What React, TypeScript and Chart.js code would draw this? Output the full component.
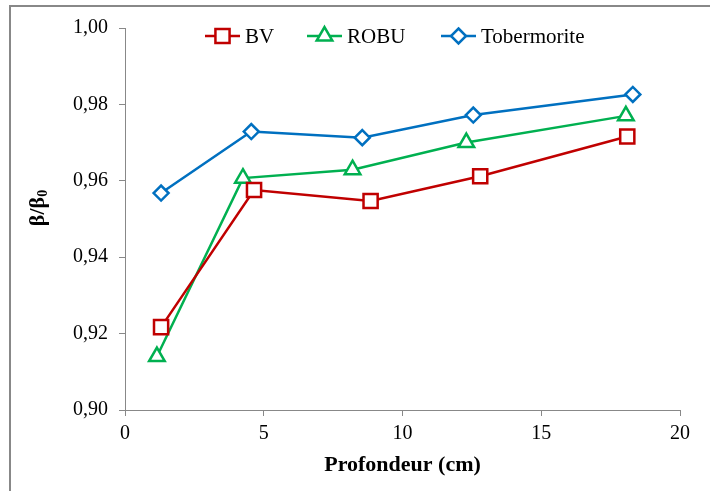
import React, { useEffect, useRef } from "react";
import { Chart, registerables } from "chart.js";

Chart.register(...registerables);

const bvX = [1.3, 4.65, 8.85, 12.8, 18.1];
const bvY = [0.9217, 0.9576, 0.9547, 0.9612, 0.9716];
const robuX = [1.15, 4.25, 8.2, 12.3, 18.05];
const robuY = [0.914, 0.9607, 0.9629, 0.97, 0.977];
const tobX = [1.3, 4.55, 8.55, 12.55, 18.3];
const tobY = [0.9568, 0.9729, 0.9713, 0.9772, 0.9826];

const seriesNames = ["BV", "ROBU", "Tobermorite"];
const seriesColors = ["#C00000", "#00B050", "#0070C0"];
const seriesMarkers = ["rect", "triangle", "rectRot"];
const markerRadius = [10, 9, 7.5];

const xTitle = "Profondeur (cm)";
const yTitleMain = "β/β";
const yTitleSub = "0";

const SERIF = "'Liberation Serif', 'Times New Roman', serif";

const toPts = (xs: number[], ys: number[]) => xs.map((x, i) => ({ x, y: ys[i] }));

const framePlugin = {
  id: "frame",
  beforeDraw(chart: any) {
    const ctx = chart.ctx;
    ctx.save();
    ctx.fillStyle = "#ffffff";
    ctx.fillRect(0, 0, chart.width, chart.height);
    ctx.strokeStyle = "#888888";
    ctx.lineWidth = 2;
    ctx.beginPath();
    ctx.moveTo(10, chart.height);
    ctx.lineTo(10, 6);
    ctx.lineTo(chart.width, 6);
    ctx.stroke();
    ctx.restore();
  },
};

const drawMarker = (ctx: any, style: string, x: number, y: number, r: number) => {
  ctx.beginPath();
  if (style === "rect") {
    const s = Math.SQRT1_2 * r;
    ctx.rect(x - s, y - s, 2 * s, 2 * s);
  } else if (style === "triangle") {
    for (let i = 0; i < 3; i++) {
      const a = (i * 2 * Math.PI) / 3;
      const px = x + Math.sin(a) * r;
      const py = y - Math.cos(a) * r;
      if (i === 0) ctx.moveTo(px, py);
      else ctx.lineTo(px, py);
    }
    ctx.closePath();
  } else {
    ctx.moveTo(x, y - r);
    ctx.lineTo(x + r, y);
    ctx.lineTo(x, y + r);
    ctx.lineTo(x - r, y);
    ctx.closePath();
  }
  ctx.fillStyle = "#ffffff";
  ctx.fill();
  ctx.stroke();
};

const legendPlugin = {
  id: "customLegend",
  afterDraw(chart: any) {
    const ctx = chart.ctx;
    const y = 36;
    const starts = [205, 307, 441];
    ctx.save();
    ctx.font = `21px ${SERIF}`;
    ctx.textBaseline = "middle";
    ctx.textAlign = "left";
    seriesNames.forEach((name, i) => {
      const x0 = starts[i];
      ctx.strokeStyle = seriesColors[i];
      ctx.lineWidth = 2.5;
      ctx.beginPath();
      ctx.moveTo(x0, y);
      ctx.lineTo(x0 + 35, y);
      ctx.stroke();
      drawMarker(ctx, seriesMarkers[i], x0 + 17.5, y, markerRadius[i]);
      ctx.fillStyle = "#000000";
      ctx.fillText(name, x0 + 40, y + 1);
    });
    ctx.restore();
  },
};

const yTitlePlugin = {
  id: "yTitle",
  afterDraw(chart: any) {
    const ctx = chart.ctx;
    ctx.save();
    ctx.translate(38, 208);
    ctx.rotate(-Math.PI / 2);
    ctx.fillStyle = "#000000";
    ctx.textBaseline = "middle";
    ctx.textAlign = "left";
    ctx.font = `bold 22px ${SERIF}`;
    const w1 = ctx.measureText(yTitleMain).width;
    ctx.font = `bold 14px ${SERIF}`;
    const w2 = ctx.measureText(yTitleSub).width;
    const start = -(w1 + w2) / 2;
    ctx.font = `bold 22px ${SERIF}`;
    ctx.fillText(yTitleMain, start, 0);
    ctx.font = `bold 14px ${SERIF}`;
    ctx.fillText(yTitleSub, start + w1, 5);
    ctx.restore();
  },
};

export default function App() {
  const ref = useRef<HTMLCanvasElement | null>(null);

  useEffect(() => {
    if (!ref.current) return;
    const mk = (i: number, data: any[]) => ({
      label: seriesNames[i],
      data,
      borderColor: seriesColors[i],
      backgroundColor: "#ffffff",
      borderWidth: 2.5,
      pointStyle: seriesMarkers[i],
      pointRadius: markerRadius[i],
      pointBorderWidth: 2.5,
      pointBorderColor: seriesColors[i],
      pointBackgroundColor: "#ffffff",
      tension: 0,
      fill: false,
    });
    const chart = new Chart(ref.current, {
      type: "line",
      data: {
        datasets: [
          mk(0, toPts(bvX, bvY)),
          mk(1, toPts(robuX, robuY)),
          mk(2, toPts(tobX, tobY)),
        ],
      },
      options: {
        animation: false,
        responsive: false,
        devicePixelRatio: 1,
        layout: { padding: { top: 28, right: 30, left: 0, bottom: 0 } },
        plugins: {
          legend: { display: false },
          tooltip: { enabled: false },
        },
        scales: {
          x: {
            type: "linear",
            min: 0,
            max: 20,
            afterFit: (s: any) => {
              s.height = 81;
            },
            border: { display: true, color: "#888888", width: 1 },
            grid: {
              display: true,
              drawOnChartArea: false,
              drawTicks: true,
              tickLength: 6,
              color: "#888888",
            },
            ticks: {
              stepSize: 5,
              color: "#000000",
              padding: 6,
              font: { family: SERIF, size: 20 },
              maxRotation: 0,
            },
            title: {
              display: true,
              text: xTitle,
              color: "#000000",
              font: { family: SERIF, size: 22, weight: "bold" },
              padding: { top: 0, bottom: 12 },
            },
          },
          y: {
            type: "linear",
            min: 0.9,
            max: 1.0,
            afterFit: (s: any) => {
              s.width = 125;
            },
            border: { display: true, color: "#888888", width: 1 },
            grid: {
              display: true,
              drawOnChartArea: false,
              drawTicks: true,
              tickLength: 6,
              color: "#888888",
            },
            ticks: {
              stepSize: 0.02,
              color: "#000000",
              padding: 11,
              font: { family: SERIF, size: 20 },
              callback: (v: any) => Number(v).toFixed(2).replace(".", ","),
            },
          },
        },
      },
      plugins: [framePlugin, legendPlugin, yTitlePlugin],
    } as any);
    return () => chart.destroy();
  }, []);

  return (
    <div style={{ position: "absolute", left: 0, top: 0, width: 710, height: 491 }}>
      <canvas ref={ref} width={710} height={491} style={{ display: "block" }} />
    </div>
  );
}
